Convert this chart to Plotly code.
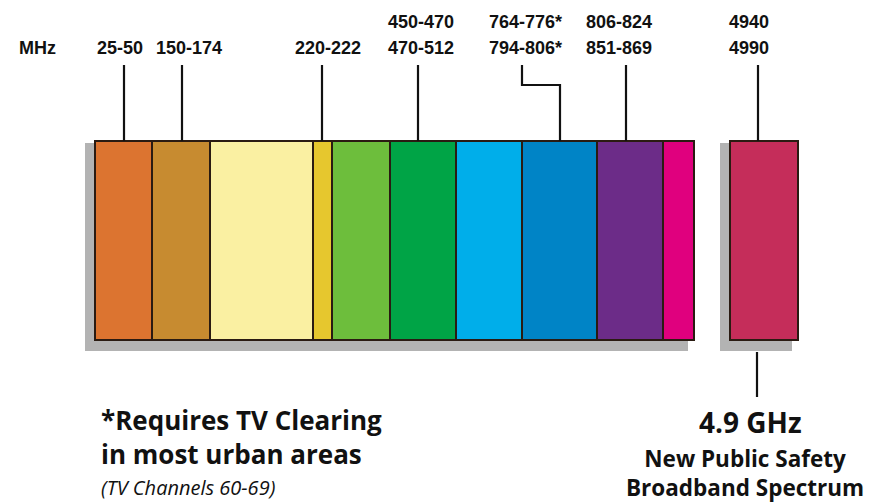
import plotly.graph_objects as go

# ---------------- data ----------------
# spectrum blocks along the diagram's band axis (block edges)
band_edges = [95, 152, 210, 313, 332, 390, 456, 522, 597, 663, 694]
band_colors = ["#DC7430", "#C78B30", "#FAF0A2", "#E6C72E", "#6DBE3C",
               "#00A446", "#00AEEA", "#0084C6", "#6C2C88", "#E0007E"]
ghz_edges = [730, 798]
ghz_color = "#C52D5A"

# frequency labels (two rows)
label_top = ["", "", "", "450-470", "764-776*", "806-824", "4940"]
label_bottom = ["25-50", "150-174", "220-222", "470-512", "794-806*", "851-869", "4990"]
label_x = [120, 189, 328, 421, 525, 619, 749]
# callout leaders: start under label, end at block
callout_from_x = [124, 182, 322, 418, 522, 626, 758]
callout_to_x = [124, 182, 322, 418, 560, 626, 758]

note_left = ["*Requires TV Clearing", "in most urban areas", "(TV Channels 60-69)"]
note_right = ["4.9 GHz", "New Public Safety", "Broadband Spectrum"]

# ---------------- geometry / style ----------------
BAR_TOP, BAR_BOT = 141, 340
SH_TOP, SH_BOT = 143, 351
SH_DX_L, SH_DX_R = -10, -6
LEAD_TOP, ELBOW_Y = 65, 85
INK = "#111111"
EDGE = "#2a1b12"
SHADOW = "#B3B3B3"

fig = go.Figure()

# shadows
for edges in (band_edges, ghz_edges):
    l, r = edges[0] + SH_DX_L, edges[-1] + SH_DX_R
    fig.add_trace(go.Bar(x=[(l + r) / 2], y=[SH_BOT - SH_TOP], base=[SH_TOP],
                         width=[r - l], marker=dict(color=SHADOW, line=dict(width=0)),
                         hoverinfo="skip", showlegend=False))

# main spectrum blocks
centers = [(a + b) / 2 for a, b in zip(band_edges[:-1], band_edges[1:])]
widths = [b - a for a, b in zip(band_edges[:-1], band_edges[1:])]
fig.add_trace(go.Bar(x=centers, y=[BAR_BOT - BAR_TOP] * len(centers),
                     base=[BAR_TOP] * len(centers), width=widths,
                     marker=dict(color=band_colors, line=dict(color=EDGE, width=2)),
                     hoverinfo="skip", showlegend=False))
# 4.9 GHz block
fig.add_trace(go.Bar(x=[sum(ghz_edges) / 2], y=[BAR_BOT - BAR_TOP], base=[BAR_TOP],
                     width=[ghz_edges[1] - ghz_edges[0]],
                     marker=dict(color=ghz_color, line=dict(color=EDGE, width=2)),
                     hoverinfo="skip", showlegend=False))

# leader lines
for x0, x1 in zip(callout_from_x, callout_to_x):
    if x0 == x1:
        xs, ys = [x0, x0], [LEAD_TOP, BAR_TOP]
    else:
        xs, ys = [x0, x0, x1, x1], [LEAD_TOP, ELBOW_Y, ELBOW_Y, BAR_TOP]
    fig.add_trace(go.Scatter(x=xs, y=ys, mode="lines",
                             line=dict(color=INK, width=2.2),
                             hoverinfo="skip", showlegend=False))
# leader below the 4.9 GHz block
gx = callout_to_x[-1] - 1
fig.add_trace(go.Scatter(x=[gx, gx], y=[352, 397], mode="lines",
                         line=dict(color=INK, width=2.2),
                         hoverinfo="skip", showlegend=False))

lab_font = dict(family="Liberation Sans", size=18, color=INK, weight=700)
ann = []
ann.append(dict(x=37, y=48, text="MHz", font=lab_font))
for x, t, b in zip(label_x, label_top, label_bottom):
    if t:
        ann.append(dict(x=x, y=21.5, text=t, font=lab_font))
    ann.append(dict(x=x, y=48, text=b, font=lab_font))

big = dict(family="Open Sans", size=26, color=INK, weight=700)
ann.append(dict(x=99, y=436.5, text="<br>".join(note_left[:2]), font=big,
                xanchor="left", align="left"))
ann.append(dict(x=99, y=487, text="<i>" + note_left[2] + "</i>",
                font=dict(family="Open Sans", size=20, color=INK), xanchor="left"))

ann.append(dict(x=750, y=422, text=note_right[0],
                font=dict(family="Open Sans", size=28, color=INK, weight=700)))
rf = dict(family="Open Sans", size=22.5, color=INK, weight=700)
ann.append(dict(x=745, y=472.5, text="<br>".join(note_right[1:]), font=rf, align="center"))

for a in ann:
    a.setdefault("xanchor", "center")
    a.update(xref="x", yref="y", yanchor="middle", showarrow=False)

fig.update_layout(
    width=870, height=503, margin=dict(l=0, r=0, t=0, b=0),
    paper_bgcolor="white", plot_bgcolor="white",
    barmode="overlay", bargap=0,
    xaxis=dict(range=[0, 870], visible=False, fixedrange=True),
    yaxis=dict(range=[503, 0], visible=False, fixedrange=True),
    annotations=ann, showlegend=False,
)
fig.write_html("out.html", config={"displayModeBar": False},
               post_script="document.body.style.margin='0';document.body.style.overflow='hidden';")
